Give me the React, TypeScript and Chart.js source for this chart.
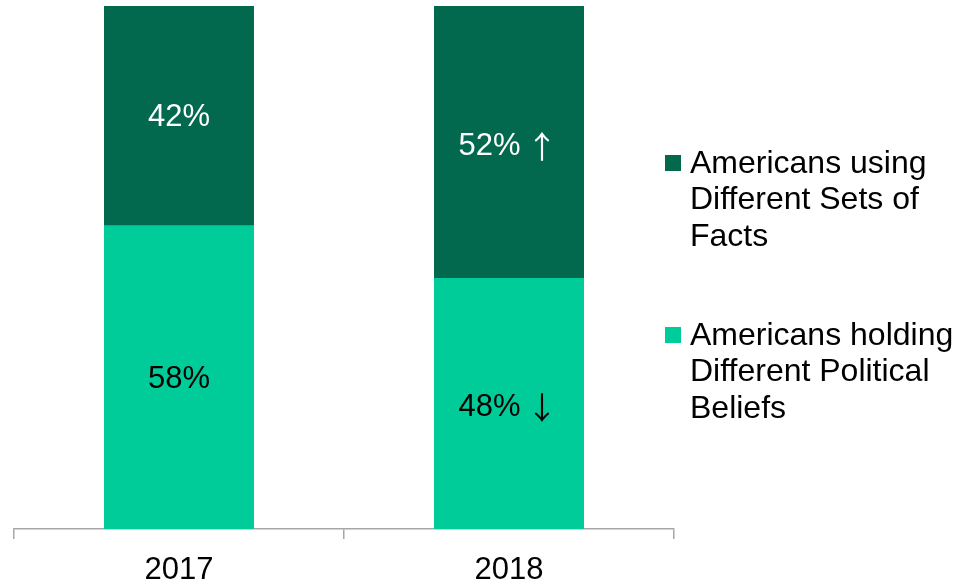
import React, { useEffect, useRef } from "react";
import { Chart, registerables } from "chart.js";

Chart.register(...registerables);

const categories = ["2017", "2018"];
const seriesNames = [
  "Americans holding Different Political Beliefs",
  "Americans using Different Sets of Facts",
];
const legendLines = [
  ["Americans holding", "Different Political", "Beliefs"],
  ["Americans using", "Different Sets of", "Facts"],
];
const politicalBeliefs = [58, 48];
const differentFacts = [42, 52];
const beliefsTrend = ["", "↓"];
const factsTrend = ["", "↑"];

const FONT = "'Liberation Sans', Arial, sans-serif";
const ARROW_FONT = "'Noto Sans CJK JP', 'DejaVu Sans', sans-serif";
const DARK = "#02694E";
const LIGHT = "#00CC99";

const barLabelPlugin = {
  id: "barLabels",
  afterDatasetsDraw(chart: any) {
    const ctx = chart.ctx;
    const trends = [beliefsTrend, factsTrend];
    const colors = ["#000000", "#FFFFFF"];
    ctx.save();
    ctx.textBaseline = "middle";
    ctx.textAlign = "left";
    chart.data.datasets.forEach((ds: any, di: number) => {
      const meta = chart.getDatasetMeta(di);
      meta.data.forEach((bar: any, i: number) => {
        const v = ds.data[i];
        const t = trends[di][i];
        const text = `${v}%`;
        ctx.font = `31px ${FONT}`;
        const w1 = ctx.measureText(text).width;
        const gap = t ? 6 : 0;
        let w2 = 0;
        if (t) {
          ctx.font = `31px ${ARROW_FONT}`;
          w2 = ctx.measureText(t).width;
        }
        const cy = (bar.y + bar.base) / 2 + (t ? 4 : 2);
        const x0 = bar.x - (w1 + gap + w2) / 2 - (t ? 1 : 0);
        ctx.fillStyle = colors[di];
        ctx.font = `31px ${FONT}`;
        ctx.fillText(text, x0, cy);
        if (t) {
          ctx.font = `31px ${ARROW_FONT}`;
          ctx.fillText(t, x0 + w1 + gap, cy);
        }
      });
    });
    ctx.restore();
  },
};

const legendPlugin = {
  id: "customLegend",
  afterDraw(chart: any) {
    const ctx = chart.ctx;
    const area = chart.chartArea;
    const boxX = area.right - 9;
    const textX = area.right + 16;
    const lineH = 36.5;
    const firstY = [335, 163];
    ctx.save();
    ctx.font = `32px ${FONT}`;
    ctx.textAlign = "left";
    ctx.textBaseline = "middle";
    chart.data.datasets.forEach((ds: any, di: number) => {
      const y0 = firstY[di];
      ctx.fillStyle = ds.backgroundColor;
      ctx.fillRect(boxX, y0 - 8, 16, 16);
      ctx.fillStyle = "#000000";
      legendLines[di].forEach((line, li) => {
        ctx.fillText(line, textX, y0 + li * lineH + 1);
      });
    });
    ctx.restore();
  },
};

export default function App() {
  const ref = useRef<HTMLCanvasElement | null>(null);
  useEffect(() => {
    if (!ref.current) return;
    const chart = new Chart(ref.current, {
      type: "bar",
      data: {
        labels: categories,
        datasets: [
          {
            label: seriesNames[0],
            data: politicalBeliefs,
            backgroundColor: LIGHT,
            borderWidth: 0,
            categoryPercentage: 1,
            barPercentage: 0.4545,
          },
          {
            label: seriesNames[1],
            data: differentFacts,
            backgroundColor: DARK,
            borderWidth: 0,
            categoryPercentage: 1,
            barPercentage: 0.4545,
          },
        ],
      },
      options: {
        animation: false,
        responsive: false,
        maintainAspectRatio: false,
        layout: { padding: { left: 14, right: 298, top: 6, bottom: 0 } },
        plugins: {
          legend: { display: false },
          tooltip: { enabled: false },
        },
        scales: {
          x: {
            stacked: true,
            afterFit(scale: any) {
              scale.height = 54;
            },
            grid: {
              offset: true,
              drawOnChartArea: false,
              drawTicks: true,
              tickLength: 10,
              color: "#A6A6A6",
              lineWidth: 1.5,
            },
            border: { display: true, color: "#A6A6A6", width: 1.5 },
            ticks: {
              color: "#000000",
              font: { family: FONT, size: 31 },
              padding: 13,
            },
          },
          y: {
            stacked: true,
            display: false,
            min: 0,
            max: 100,
          },
        },
      },
      plugins: [barLabelPlugin, legendPlugin],
    });
    return () => chart.destroy();
  }, []);
  return (
    <div style={{ position: "fixed", left: 0, top: 0, width: 972, height: 583 }}>
      <canvas ref={ref} width={972} height={583} style={{ width: 972, height: 583 }} />
    </div>
  );
}
